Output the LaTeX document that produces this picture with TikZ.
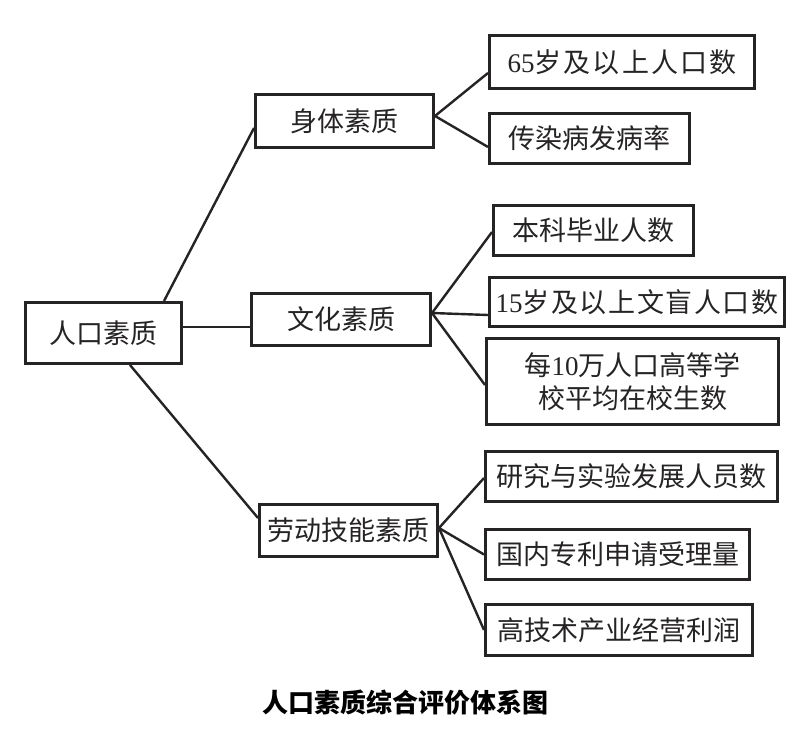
\documentclass[tikz,border=0pt]{standalone}
\usepackage{fontspec}
\newfontfamily\cjk{Noto Sans CJK SC}
\newfontfamily\cjkwideA[LetterSpace=8]{Noto Sans CJK SC}
\newfontfamily\cjkwideB[LetterSpace=6]{Noto Sans CJK SC}
\newfontfamily\dgfont{Liberation Serif}
\newcommand\dg[1]{{\dgfont #1}}
\definecolor{ink}{HTML}{262324}
\tikzset{
  box/.style={draw=ink, line width=3pt, inner sep=0pt, align=center,
    text=ink, font=\cjk\fontsize{27}{33}\selectfont},
  link/.style={draw=ink, line width=2.4pt},
}
\begin{document}
\begin{tikzpicture}[x=1pt,y=-1pt]
\useasboundingbox[fill=white] (0,0) rectangle (800,733);
% level 0
\node[box, minimum width=156pt, minimum height=61pt] (root) at (103.5,333) {人口素质};
% level 1
\node[box, minimum width=178pt, minimum height=53pt] (body) at (344.5,121) {身体素质};
\node[box, minimum width=179pt, minimum height=52pt] (cult) at (341,319.5) {文化素质};
\node[box, minimum width=178pt, minimum height=52pt] (labor) at (348.5,530.5) {劳动技能素质};
% level 2
\node[box, minimum width=265pt, minimum height=53pt] (b1) at (622,62) {\dg{65}{\cjkwideA 岁及以上人口数}};
\node[box, minimum width=200pt, minimum height=50pt] (b2) at (589.5,138.5) {传染病发病率};
\node[box, minimum width=200pt, minimum height=50pt] (c1) at (593.5,230.5) {本科毕业人数};
\node[box, minimum width=295pt, minimum height=49pt] (c2) at (637,302) {\dg{15}{\cjkwideB 岁及以上文盲人口数}};
\node[box, minimum width=292pt, minimum height=86pt] (c3) at (632.5,381.5) {每\dg{10}万人口高等学\\校平均在校生数};
\node[box, minimum width=292pt, minimum height=50pt] (l1) at (631.5,476.5) {研究与实验发展人员数};
\node[box, minimum width=264pt, minimum height=50pt] (l2) at (617.5,554.5) {国内专利申请受理量};
\node[box, minimum width=267pt, minimum height=51pt] (l3) at (619,630) {高技术产业经营利润};
% caption
\node[font=\cjk\bfseries\fontsize{26}{30}\selectfont, text=black, inner sep=0pt] (cap) at (405.5,703) {人口素质综合评价体系图};
% connectors
\draw[link] ([xshift=-19pt]root.north east) -- ([yshift=-7pt]body.west);
\draw[link] ([yshift=6pt]root.east) -- ([yshift=-7.5pt]cult.west);
\draw[link] ([xshift=26.5pt]root.south) -- ([yshift=12.5pt]labor.west);
\draw[link] ([yshift=5pt]body.east) -- ([yshift=-11pt]b1.west);
\draw[link] ([yshift=5pt]body.east) -- ([yshift=-8.5pt]b2.west);
\draw[link] ([yshift=6.5pt]cult.east) -- ([yshift=-1.5pt]c1.west);
\draw[link] ([yshift=6.5pt]cult.east) -- ([yshift=-13pt]c2.west);
\draw[link] ([yshift=6.5pt]cult.east) -- ([yshift=-3.5pt]c3.west);
\draw[link] ([yshift=2.5pt]labor.east) -- ([yshift=-1.5pt]l1.west);
\draw[link] ([yshift=2.5pt]labor.east) -- (l2.west);
\draw[link] ([yshift=2.5pt]labor.east) -- (l3.west);
\end{tikzpicture}
\end{document}
